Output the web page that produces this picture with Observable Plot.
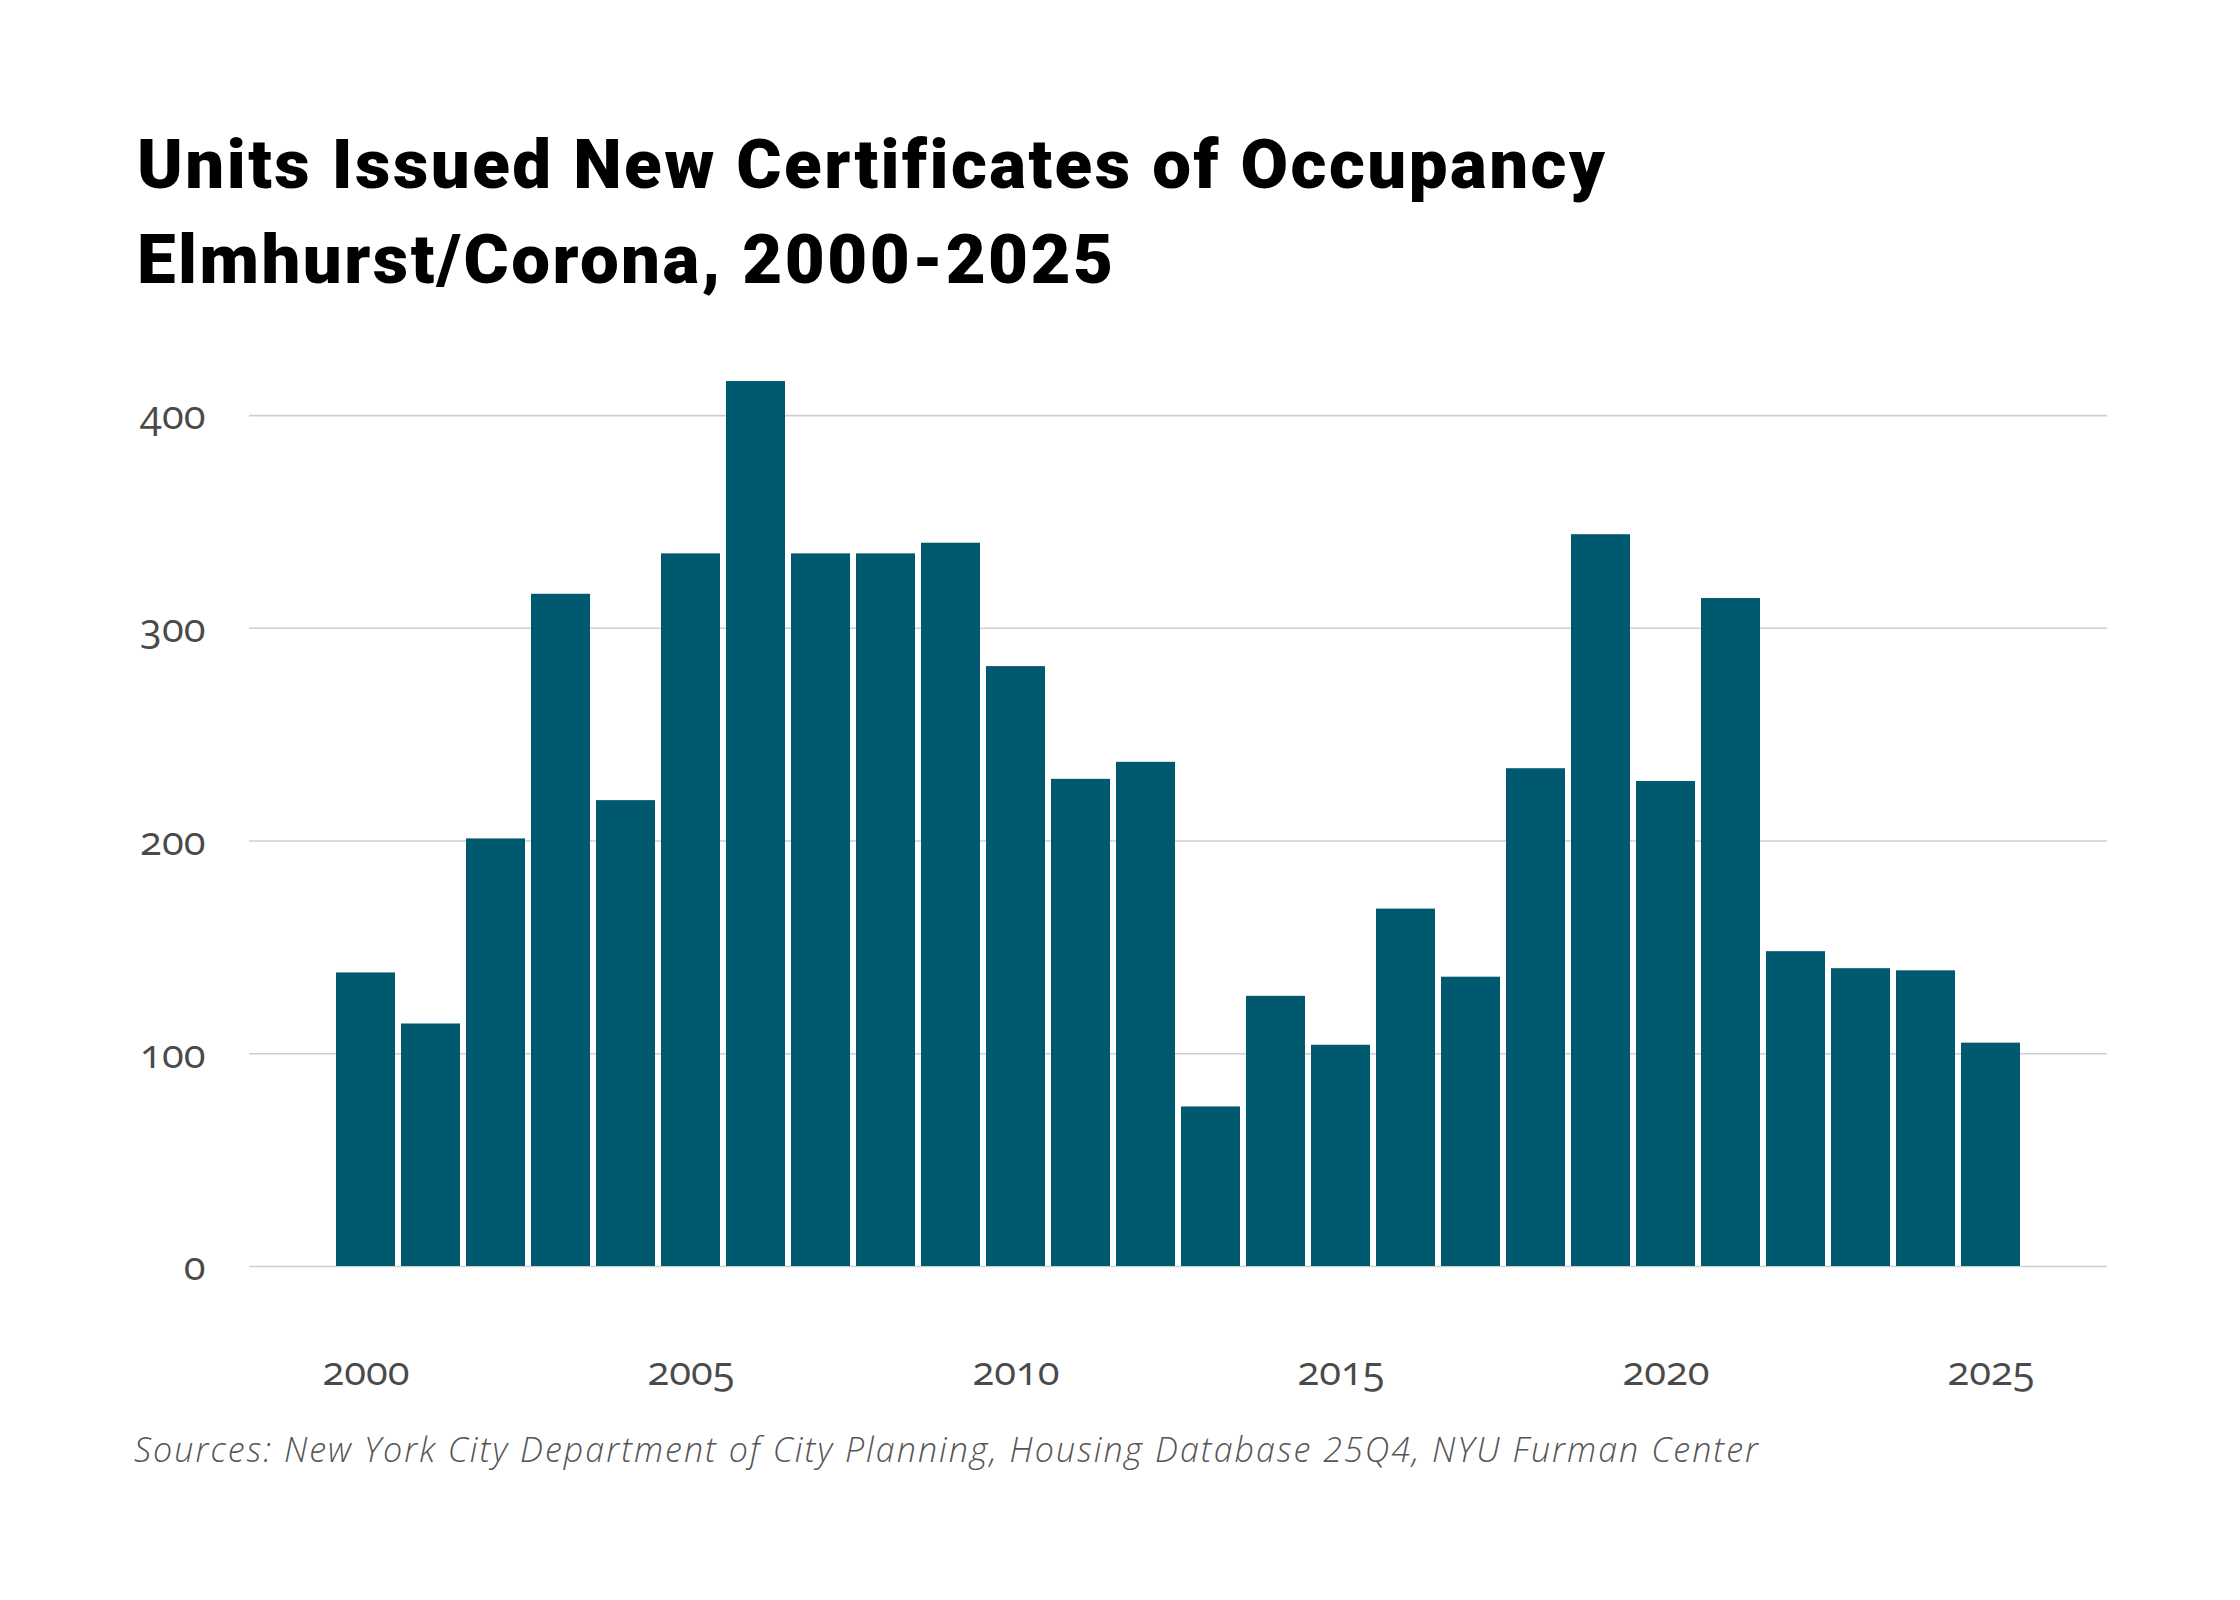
<!DOCTYPE html>
<html>
<head>
<meta charset="utf-8">
<script src="https://cdn.jsdelivr.net/npm/d3@7"></script>
<script src="https://cdn.jsdelivr.net/npm/@observablehq/plot@0.6"></script>
<style>
  html, body { margin: 0; padding: 0; background: #fff; }
  #page { position: relative; width: 2240px; height: 1600px; overflow: hidden; background: #fff; }
  #title { position: absolute; left: 137px; top: 117px; font-family: Roboto, sans-serif; font-weight: 900; font-size: 69px; line-height: 95px; color: #000; white-space: nowrap; }
  #chart { position: absolute; left: 0; top: 320px; }
  #caption { position: absolute; left: 134px; top: 1432px; font-family: "Open Sans", sans-serif; font-style: italic; font-weight: 300; font-size: 34px; line-height: 34px; color: #555; white-space: nowrap; }
  #chart svg text { font-feature-settings: "onum" 1; }
</style>
</head>
<body>
<div id="page">
  <div id="title"><div id="t1">Units Issued New Certificates of Occupancy</div><div id="t2">Elmhurst/Corona, 2000-2025</div></div>
  <div id="chart"></div>
  <div id="caption">Sources: New York City Department of City Planning, Housing Database 25Q4, NYU Furman Center</div>
</div>
<script>
const years = [2000, 2001, 2002, 2003, 2004, 2005, 2006, 2007, 2008, 2009, 2010, 2011, 2012,
               2013, 2014, 2015, 2016, 2017, 2018, 2019, 2020, 2021, 2022, 2023, 2024, 2025];
const units = [138, 114, 201, 316, 219, 335, 416, 335, 335, 340, 282, 229, 237,
               75, 127, 104, 168, 136, 234, 344, 228, 314, 148, 140, 139, 105];
const xTicks = [2000, 2005, 2010, 2015, 2020, 2025];
const yTicks = [0, 100, 200, 300, 400];

const table = years.map((year, i) => ({year, units: units[i]}));

const chart = Plot.plot({
  width: 2240,
  height: 1100,
  marginLeft: 249,
  marginRight: 133,
  marginTop: 10,
  marginBottom: 154,
  style: {fontFamily: "'Open Sans', sans-serif", fontSize: "40px", color: "#4a4a4a", background: "#fff"},
  x: {type: "band", domain: years, paddingInner: 0.1, paddingOuter: 0, insetLeft: 84, insetRight: 84, label: null},
  y: {domain: [0, 440], label: null},
  marks: [
    Plot.gridY(yTicks, {stroke: "#cfcfcf", strokeOpacity: 1, strokeWidth: 1.6}),
    Plot.barY(table, {x: "year", y: "units", fill: "#01596f"}),
    Plot.axisY(yTicks, {tickSize: 0, tickPadding: 44, label: null, dy: 1, tickFormat: d => String(d)}),
    Plot.axisX(xTicks, {tickSize: 0, tickPadding: 90, label: null, tickFormat: d => String(d)})
  ]
});
document.getElementById("chart").appendChild(chart);

// fit text line widths to the reference by letter-spacing
function fit(el, target) {
  const w = el.getBoundingClientRect().width;
  const n = el.textContent.length;
  el.style.letterSpacing = ((target - w) / n) + "px";
}
const t1 = document.getElementById("t1");
t1.style.display = "inline-block";
fit(t1, 1470);
const ls = t1.style.letterSpacing;
t1.style.display = "block";
document.getElementById("t2").style.letterSpacing = ls;
const cap = document.getElementById("caption");
cap.style.display = "inline-block";
fit(cap, 1626);
</script>
</body>
</html>
